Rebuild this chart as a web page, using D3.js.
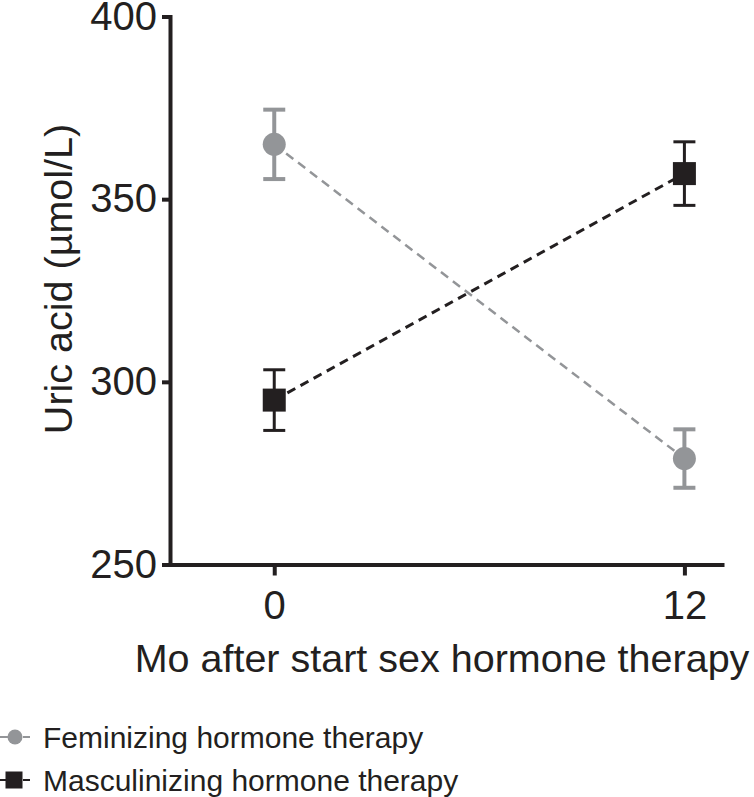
<!DOCTYPE html>
<html>
<head>
<meta charset="utf-8">
<script src="https://cdn.jsdelivr.net/npm/d3@7"></script>
<style>
  body { margin: 0; background: #fff; }
  svg text { font-family: "Liberation Sans", Arial, Helvetica, sans-serif; fill: #231f20; }
</style>
</head>
<body>
<div id="chart"></div>
<script>
var width = 754,
    height = 797;

// data
var months = [0, 12];
var femMean = [365, 279];
var femErr = [9.5, 8];
var mascMean = [295, 357];
var mascErr = [8.3, 8.7];
var yTicks = [250, 300, 350, 400];
var xTicks = [0, 12];
var seriesNames = ["Feminizing hormone therapy", "Masculinizing hormone therapy"];

var ink = "#231f20",
    grey = "#939598";

var svg = d3.select("#chart")
  .append("svg")
    .attr("width", width)
    .attr("height", height);

var x = d3.scaleLinear()
  .domain([-3.05, 13.1])
  .range([170, 722]);

var y = d3.scaleLinear()
  .domain([250, 400])
  .range([564.5, 16.5]);

// axes
var yAxis = svg.append("g")
  .attr("transform", "translate(170,0)")
  .call(d3.axisLeft(y).tickValues(yTicks).tickSize(8).tickSizeOuter(0).tickPadding(5));

var xAxis = svg.append("g")
  .attr("transform", "translate(0,564.5)")
  .call(d3.axisBottom(x).tickValues(xTicks).tickSize(11).tickSizeOuter(0).tickPadding(15));

[yAxis, xAxis].forEach(function(g) {
  g.select(".domain").attr("stroke", ink).attr("stroke-width", 4).attr("stroke-linecap", "square");
  g.selectAll(".tick line").attr("stroke", ink).attr("stroke-width", 4);
  g.selectAll(".tick text")
    .style("font-size", "40px")
    .style("font-family", "'Liberation Sans', Arial, sans-serif")
    .attr("fill", ink);
});

// axis titles
svg.append("text")
  .attr("transform", "translate(72,279) rotate(-90)")
  .attr("text-anchor", "middle")
  .style("font-size", "39.5px")
  .text("Uric acid (\u00b5mol/L)");

svg.append("text")
  .attr("x", 442)
  .attr("y", 672)
  .attr("text-anchor", "middle")
  .style("font-size", "39.5px")
  .text("Mo after start sex hormone therapy");

// series
var series = [
  {name: seriesNames[0], mean: femMean, err: femErr, color: grey, shape: "circle", ew: 4, lw: 2.5},
  {name: seriesNames[1], mean: mascMean, err: mascErr, color: ink, shape: "square", ew: 3, lw: 3}
];

series.forEach(function(s) {
  var pts = months.map(function(m, i) { return {x: m, y: s.mean[i], e: s.err[i]}; });

  svg.append("path")
    .datum(pts)
    .attr("fill", "none")
    .attr("stroke", s.color)
    .attr("stroke-width", s.lw)
    .attr("stroke-dasharray", "9,6")
    .attr("d", d3.line().x(function(d) { return x(d.x); }).y(function(d) { return y(d.y); }));

  var g = svg.append("g");
  g.selectAll("line.stem")
    .data(pts).enter().append("line")
      .attr("x1", function(d) { return x(d.x); })
      .attr("x2", function(d) { return x(d.x); })
      .attr("y1", function(d) { return y(d.y + d.e); })
      .attr("y2", function(d) { return y(d.y - d.e); })
      .attr("stroke", s.color)
      .attr("stroke-width", s.ew);
  g.selectAll("line.capTop")
    .data(pts).enter().append("line")
      .attr("x1", function(d) { return x(d.x) - 11; })
      .attr("x2", function(d) { return x(d.x) + 11; })
      .attr("y1", function(d) { return y(d.y + d.e); })
      .attr("y2", function(d) { return y(d.y + d.e); })
      .attr("stroke", s.color)
      .attr("stroke-width", s.ew);
  g.selectAll("line.capBot")
    .data(pts).enter().append("line")
      .attr("x1", function(d) { return x(d.x) - 11; })
      .attr("x2", function(d) { return x(d.x) + 11; })
      .attr("y1", function(d) { return y(d.y - d.e); })
      .attr("y2", function(d) { return y(d.y - d.e); })
      .attr("stroke", s.color)
      .attr("stroke-width", s.ew);

  if (s.shape == "circle") {
    g.selectAll("circle")
      .data(pts).enter().append("circle")
        .attr("cx", function(d) { return x(d.x); })
        .attr("cy", function(d) { return y(d.y); })
        .attr("r", 11.5)
        .attr("fill", s.color);
  } else {
    g.selectAll("rect")
      .data(pts).enter().append("rect")
        .attr("x", function(d) { return x(d.x) - 11.5; })
        .attr("y", function(d) { return y(d.y) - 11.5; })
        .attr("width", 23)
        .attr("height", 23)
        .attr("fill", s.color);
  }
});

// legend
var legend = svg.selectAll("g.legend")
  .data(series)
  .enter().append("g")
    .attr("transform", function(d, i) { return "translate(0," + (737 + i * 43) + ")"; });

legend.append("line")
  .attr("x1", 0).attr("x2", 30)
  .attr("stroke", function(d) { return d.color; })
  .attr("stroke-width", 2)
  .attr("stroke-dasharray", "8,15");

legend.each(function(d) {
  var el = d3.select(this);
  if (d.shape == "circle") {
    el.append("circle").attr("cx", 15).attr("r", 7.5).attr("fill", d.color);
  } else {
    el.append("rect").attr("x", 5.5).attr("y", -8.5).attr("width", 17).attr("height", 17).attr("fill", d.color);
  }
});

legend.append("text")
  .attr("x", 43)
  .attr("y", 10.5)
  .style("font-size", "30px")
  .text(function(d) { return d.name; });
</script>
</body>
</html>
